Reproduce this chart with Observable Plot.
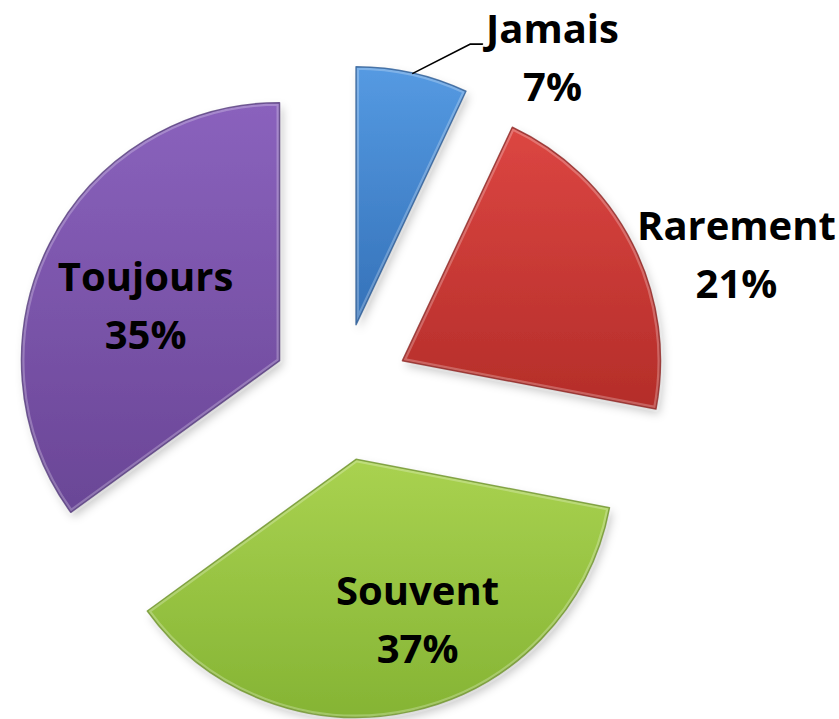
<!DOCTYPE html>
<html>
<head>
<meta charset="utf-8">
<script src="https://cdn.jsdelivr.net/npm/d3@7"></script>
<script src="https://cdn.jsdelivr.net/npm/@observablehq/plot@0.6"></script>
<style>
  html, body { margin: 0; padding: 0; background: #ffffff; }
  #chart { width: 839px; height: 719px; overflow: hidden; }
</style>
</head>
<body>
<div id="chart"></div>
<script>
// ---- data ----
const categories = ["Jamais", "Rarement", "Souvent", "Toujours"];
const percents = [7, 21, 37, 35];

// ---- styling / layout ----
const topColors = ["#559ae2", "#dc4642", "#a9d250", "#8a62bd"];
const bottomColors = ["#3471b8", "#b42d29", "#85b434", "#6a4696"];
const edgeColors = ["#2b5a94", "#8c2320", "#6c9127", "#53387a"];
const explode = 69 / 258;             // explode distance (in radii)
const labelAngleDeg = [32.4, 71.1, 161.7, 293.2]; // label direction from pie center
const labelRadius = [1.526, 1.618, 0.939, 0.826]; // label distance (in radii)

const rad = Math.PI / 180;
const arcs = d3.pie().sort(null).value(d => d)(percents);
const slices = arcs.map((a, i) => {
  const mid = (a.startAngle + a.endAngle) / 2;
  return {
    cat: categories[i], pct: percents[i], i,
    start: a.startAngle, end: a.endAngle, mid,
    ax: explode * Math.sin(mid), ay: explode * Math.cos(mid)
  };
});
const labels = slices.map((s, i) => ({
  text: `${s.cat}\n${s.pct}%`,
  x: labelRadius[i] * Math.sin(labelAngleDeg[i] * rad),
  y: labelRadius[i] * Math.cos(labelAngleDeg[i] * rad)
}));
// leader line for the outside "Jamais" label
const j = slices[0], jl = labels[0];
const leader = [
  [j.ax + Math.sin(j.mid), j.ay + Math.cos(j.mid)],
  [jl.x - 82 / 258, jl.y + 16 / 258],
  [jl.x - 70 / 258, jl.y + 16 / 258]
];

const chart = Plot.plot({
  width: 839,
  height: 719,
  margin: 0,
  x: { domain: [-341 / 258, 498 / 258], axis: null },
  y: { domain: [-327 / 258, 392 / 258], axis: null },
  marks: [
    Plot.dot(slices, {
      x: "ax", y: "ay",
      render: (index, scales, values, dims, ctx) => {
        const r = Math.abs(scales.x(1) - scales.x(0));
        const ns = "http://www.w3.org/2000/svg";
        const g = d3.select(ctx.document.createElementNS(ns, "g"));
        const defs = g.append("defs");
        const f = defs.append("filter").attr("id", "shadow")
          .attr("x", "-20%").attr("y", "-20%").attr("width", "140%").attr("height", "140%");
        f.append("feDropShadow").attr("dx", 3).attr("dy", 5).attr("stdDeviation", 5)
          .attr("flood-color", "#000").attr("flood-opacity", 0.22);
        for (const i of index) {
          const s = slices[i];
          const lg = defs.append("linearGradient").attr("id", "grad" + i)
            .attr("x1", 0).attr("y1", 0).attr("x2", 0).attr("y2", 1);
          lg.append("stop").attr("offset", "0%").attr("stop-color", topColors[i]);
          lg.append("stop").attr("offset", "100%").attr("stop-color", bottomColors[i]);
          const arc = d3.arc().innerRadius(0).outerRadius(r)
            .startAngle(s.start).endAngle(s.end);
          const p = arc();
          const grp = g.append("g")
            .attr("transform", `translate(${values.x[i]},${values.y[i]})`);
          grp.append("path").attr("d", p).attr("fill", `url(#grad${i})`)
            .attr("filter", "url(#shadow)");
          grp.append("path").attr("d", p).attr("fill", "none")
            .attr("stroke", "#ffffff").attr("stroke-opacity", 0.25)
            .attr("stroke-width", 6).attr("stroke-linejoin", "round");
          grp.append("path").attr("d", p).attr("fill", "none")
            .attr("stroke", edgeColors[i]).attr("stroke-opacity", 0.8)
            .attr("stroke-width", 1.5).attr("stroke-linejoin", "round");
        }
        return g.node();
      }
    }),
    Plot.line(leader, { x: d => d[0], y: d => d[1], stroke: "#000", strokeWidth: 1.6 }),
    Plot.text(labels, {
      x: "x", y: "y", text: "text", dy: -7,
      fontSize: 40, fontWeight: "bold", fontFamily: "'Open Sans', Lato, sans-serif",
      lineHeight: 1.45, fill: "#000"
    })
  ]
});
document.getElementById("chart").append(chart);
</script>
</body>
</html>
